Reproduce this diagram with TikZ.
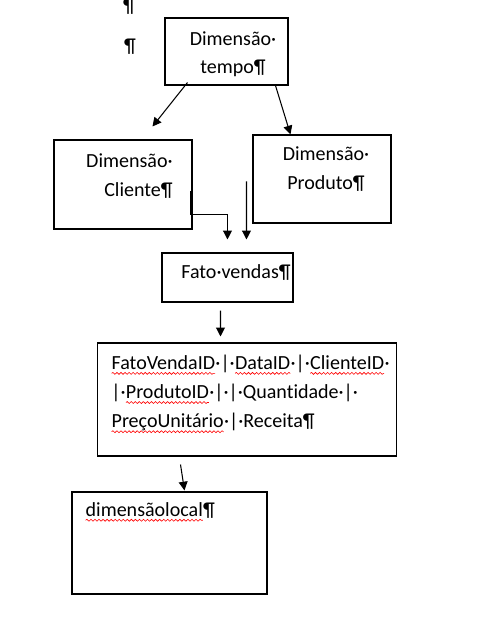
\documentclass[tikz,border=0pt]{standalone}
\usepackage{fontspec}
\setmainfont{Carlito}[Ligatures={NoCommon}]
\usetikzlibrary{positioning,arrows.meta,calc,decorations.pathmorphing}
\newcommand\spellwave[1]{\tikz[baseline=(w.base)]{\node[inner sep=0pt, outer sep=0pt, anchor=base] (w) {#1};
  \draw[red, line width=0.35pt, decorate, decoration={snake, amplitude=0.55pt, segment length=2.3pt}]
    ([yshift=-2.2pt]w.base west) -- ([yshift=-2.2pt]w.base east);}}
\tikzset{
  caixa/.style={draw, line width=0.6pt, inner sep=0pt},
  rotulo/.style={inner sep=0pt, font=\fontsize{11.4}{16}\selectfont},
  flow/.style={-{Triangle[length=5pt,width=5pt]}, line width=0.6pt},
}
\begin{document}
\begin{tikzpicture}[x=0.02cm, y=-0.02cm]
  \useasboundingbox (0,0) rectangle (485,633);
  % caixas
  \node[caixa, minimum width=2.46cm, minimum height=1.34cm] (tempo)   at (226.5,51.5) {};
  \node[caixa, minimum width=2.76cm, minimum height=1.78cm] (cliente) at (123,184.5) {};
  \node[caixa, minimum width=2.76cm, minimum height=1.76cm] (produto) at (322,179) {};
  \node[caixa, minimum width=2.62cm, minimum height=0.98cm] (fato)    at (227.5,277.5) {};
  \node[caixa, minimum width=6.00cm, minimum height=2.26cm] (campos)  at (247,399.5) {};
  \node[caixa, minimum width=3.90cm, minimum height=2.04cm] (local)   at (169.5,543) {};

  % textos
  \node[rotulo] (para1) at (129,7) {¶};
  \node[rotulo] (para2) at (130,47) {¶};
  \node[rotulo, align=center] (tempotxt) at (233,54) {Dimensão·\\tempo¶};
  \node[rotulo, align=right, anchor=east] (clientetxt) at (173,176) {Dimensão·\\Cliente¶};
  \node[rotulo, align=center] (produtotxt) at (326,169) {Dimensão·\\Produto¶};
  \node[rotulo] (fatotxt) at (236,272) {Fato·vendas¶};
  \node[rotulo, align=left, anchor=west, font=\fontsize{11.4}{16.6}\selectfont] (campostxt) at (111,394)
    {\spellwave{FatoVendaID}·|·\spellwave{DataID}·|·\spellwave{ClienteID}·\\
     |·\spellwave{ProdutoID}·|·|·Quantidade·|·\\
     \spellwave{PreçoUnitário}·|·Receita¶};
  \node[rotulo, anchor=west] (localtxt) at (85,512) {\spellwave{dimensãolocal}¶};

  % setas
  \draw[flow] ($(tempo.south west)+(23,-3)$) -- ($(cliente.north west)+(99,-13)$);
  \draw[flow] ($(tempo.south west)+(111,0)$) -- ($(produto.north west)+(38,0)$);
  \draw[flow] ($(cliente.north east)+(-2,52)$) |- ($(fato.north west)+(66,-38)$) -- ($(fato.north west)+(66,-13)$);
  \draw[flow] ($(produto.north west)+(-6,47)$) -- ($(fato.north west)+(85,-13)$);
  \draw[flow] ($(fato.south west)+(59,8)$) -- ($(campos.north west)+(124,-6)$);
  \draw[flow] ($(campos.south west)+(84,8)$) -- ($(local.north west)+(113,-1)$);
\end{tikzpicture}
\end{document}
